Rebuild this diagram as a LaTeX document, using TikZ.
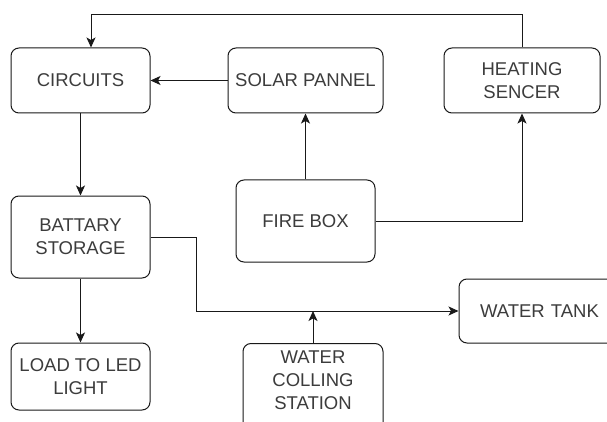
\documentclass[tikz,border=0pt]{standalone}
\usepackage{fontspec}
\setmainfont{Liberation Sans}
\usetikzlibrary{arrows.meta}
\definecolor{txt}{RGB}{60,60,60}
\definecolor{ln}{RGB}{25,25,25}
\tikzset{
  box/.style={draw=ln, line width=1pt, rounded corners=8pt, inner sep=0pt,
    align=center, font=\fontsize{18.5}{23}\selectfont, text=txt},
  conn/.style={draw=ln, line width=1pt},
  arr/.style={conn, -{Stealth[length=10pt,width=9pt,inset=2.5pt]}}
}
\begin{document}
\begin{tikzpicture}[x=1pt,y=-1pt]
\clip (0,0) rectangle (607,422);
\fill[white] (0,0) rectangle (607,422);
\node[box, minimum width=139pt, minimum height=65pt] (circ) at (80.5,80.5) {CIRCUITS};
\node[box, minimum width=155pt, minimum height=65pt] (solar) at (305.5,80.5) {SOLAR PANNEL};
\node[box, minimum width=156pt, minimum height=65pt] (heat) at (522,80.5) {HEATING\\SENCER};
\node[box, minimum width=139pt, minimum height=82pt] (batt) at (80.5,237) {BATTARY\\STORAGE};
\node[box, minimum width=139pt, minimum height=82pt] (fire) at (305.5,221) {FIRE BOX};
\node[box, minimum width=139pt, minimum height=67pt] (load) at (80.5,376.5) {LOAD TO LED\\LIGHT};
\node[box, minimum width=160pt, minimum height=64pt, text width=150pt, align=left, inner xsep=0pt] (tank) at (539,311) {\hspace*{16pt}WATER TANK};
\node[box, minimum width=140pt, minimum height=90pt, anchor=north] (water) at (313,343) {};
\node[font=\fontsize{18.5}{23}\selectfont, text=txt, align=center, inner sep=0pt, anchor=north] (wtext) at (313,351) {WATER\\COLLING\\STATION};
\coordinate (t1) at (522,15);
\coordinate (t2) at (91,15);
\coordinate (b1) at (196,237);
\draw[arr] (heat.north) -- (t1) -- (t2) -- (circ.north -| t2);
\draw[arr] (solar.west) -- (circ.east);
\draw[arr] (circ.south) -- (batt.north);
\draw[arr] (batt.south) -- (load.north);
\draw[arr] (fire.north) -- (solar.south);
\draw[arr] (fire.east) -- (fire.east -| heat.south) -- (heat.south);
\draw[arr] (batt.east) -- (b1 |- batt.east) -- (b1 |- tank.west) -- (tank.west);
\draw[arr] (water.north) -- (water.north |- tank.west);
\end{tikzpicture}
\end{document}
